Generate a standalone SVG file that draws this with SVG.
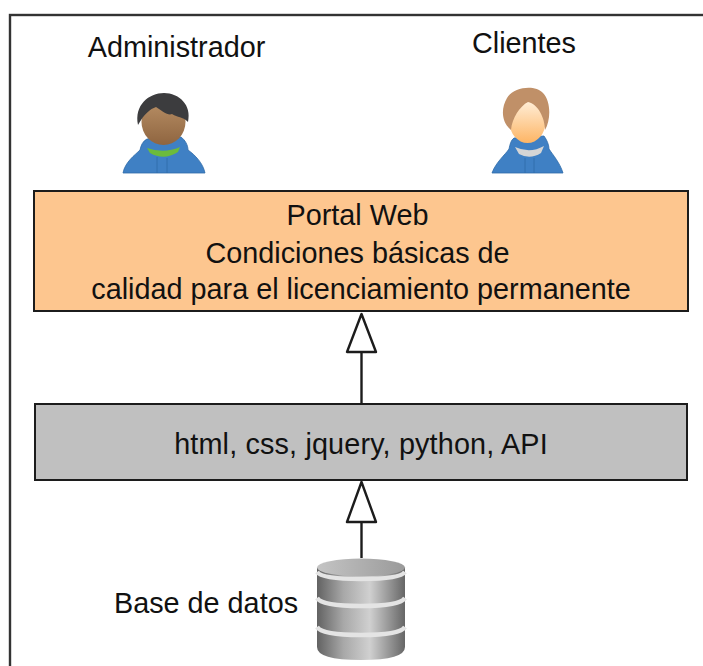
<svg xmlns="http://www.w3.org/2000/svg" width="703" height="666" viewBox="0 0 703 666">
<style>
text{font-family:"Liberation Sans",Arial,sans-serif;font-size:28.800px;fill:#111;text-anchor:middle}
.box{stroke:#1c1c1c;stroke-width:2}
.edge{stroke:#1c1c1c;stroke-width:2.400;fill:none}
.head{stroke:#1c1c1c;stroke-width:2.400;fill:#fff;stroke-linejoin:round}
.hood{fill:#3f80c4;stroke:#2f6ba8;stroke-width:.8}
.seam{stroke:#2f6ba8;stroke-width:.8;fill:none}
.band{fill:none;stroke:#e4e4e4;stroke-width:4.500}
</style>
<defs>
<linearGradient id="db" x1="0" x2="1" y1="0" y2="0">
<stop offset="0" stop-color="#626262"/><stop offset=".3" stop-color="#a8a8a8"/><stop offset=".6" stop-color="#d0d0d0"/><stop offset=".85" stop-color="#8e8e8e"/><stop offset="1" stop-color="#666"/>
</linearGradient>
<linearGradient id="dbtop" x1="0" x2="1" y1="0" y2="0">
<stop offset="0" stop-color="#c4c4c4"/><stop offset="1" stop-color="#9a9a9a"/>
</linearGradient>
<linearGradient id="skin1" x1="0" x2="0" y1="0" y2="1"><stop offset="0" stop-color="#b99066"/><stop offset="1" stop-color="#8f6540"/></linearGradient>
<linearGradient id="skin2" x1="0" x2="0" y1="0" y2="1"><stop offset="0" stop-color="#ffeed8"/><stop offset="1" stop-color="#fdb565"/></linearGradient>
</defs>
<rect id="frame" x="10" y="15" width="700" height="670" fill="#fff" stroke="#333" stroke-width="2.400"/>
<g id="connectors">
<path class="edge" d="M361.500 403V352"/>
<path class="head" d="M361.500 314L347 352H376Z"/>
<path class="edge" d="M361.500 558V522"/>
<path class="head" d="M361.500 482L347 522H376Z"/>
</g>
<g id="administrador">
<text x="176.500" y="57">Administrador</text>
<path class="hood" d="M123 173C125 162 135 155 140 150C141 145 143 141 147 139L181 137C185 140 188 145 188 150C195 155 203 163 205 173Z"/>
<path d="M147 148Q164 154 180 147L178 152Q164 161 150 153Z" fill="#6cbb3c"/>
<ellipse cx="163.500" cy="122" rx="22" ry="23" fill="url(#skin1)"/>
<path d="M138 125C134 105 149 93 164 93C179 93 192 105 188 122C182 116 178 118 172 114C168 116 162 111 156 107C150 109 144 114 138 125Z" fill="#3c3c3e"/>
<path class="seam" d="M157 157V173M167 158V173"/>
</g>
<g id="clientes">
<text x="524" y="53">Clientes</text>
<path class="hood" d="M492 173C496 162 505 155 509 149C510 144 511 140 514 138L544 136C547 140 549 145 549 149C553 155 560 163 563 173Z"/>
<path d="M515 147Q530 154 544 146L541 153Q530 160 519 154Z" fill="#d5d5d5"/>
<ellipse cx="527.500" cy="122" rx="18" ry="21" fill="url(#skin2)"/>
<path d="M511 130C501 122 501 108 507 98C513 87 535 84 543 93C551 101 551 120 545 130C545 118 538 104 528 102C520 106 512 118 511 130Z" fill="#c09068"/>
<path class="seam" d="M525 158V173M534 158V173"/>
</g>
<g id="portal">
<rect class="box" x="34" y="191" width="654" height="120" fill="#fdc68f"/>
<text x="357.500" y="225">Portal Web</text>
<text x="357.500" y="263">Condiciones básicas de</text>
<text x="361" y="299">calidad para el licenciamiento permanente</text>
</g>
<g id="tecnologias">
<rect class="box" x="35" y="404" width="652" height="76" fill="#c0c0c0"/>
<text x="361" y="454" letter-spacing=".15">html, css, jquery, python, API</text>
</g>
<g id="base">
<text x="206" y="613">Base de datos</text>
<path d="M317 568V647Q317 660 361 660Q405 660 405 647V568Z" fill="url(#db)"/>
<ellipse cx="361" cy="567.500" rx="44" ry="9" fill="url(#dbtop)"/>
<path class="band" stroke-width="3" d="M317 572Q322 579 361 579Q400 579 405 572"/>
<path class="band" d="M317 598Q322 606 361 606Q400 606 405 598M317 627Q322 635 361 635Q400 635 405 627"/>
</g>
</svg>
